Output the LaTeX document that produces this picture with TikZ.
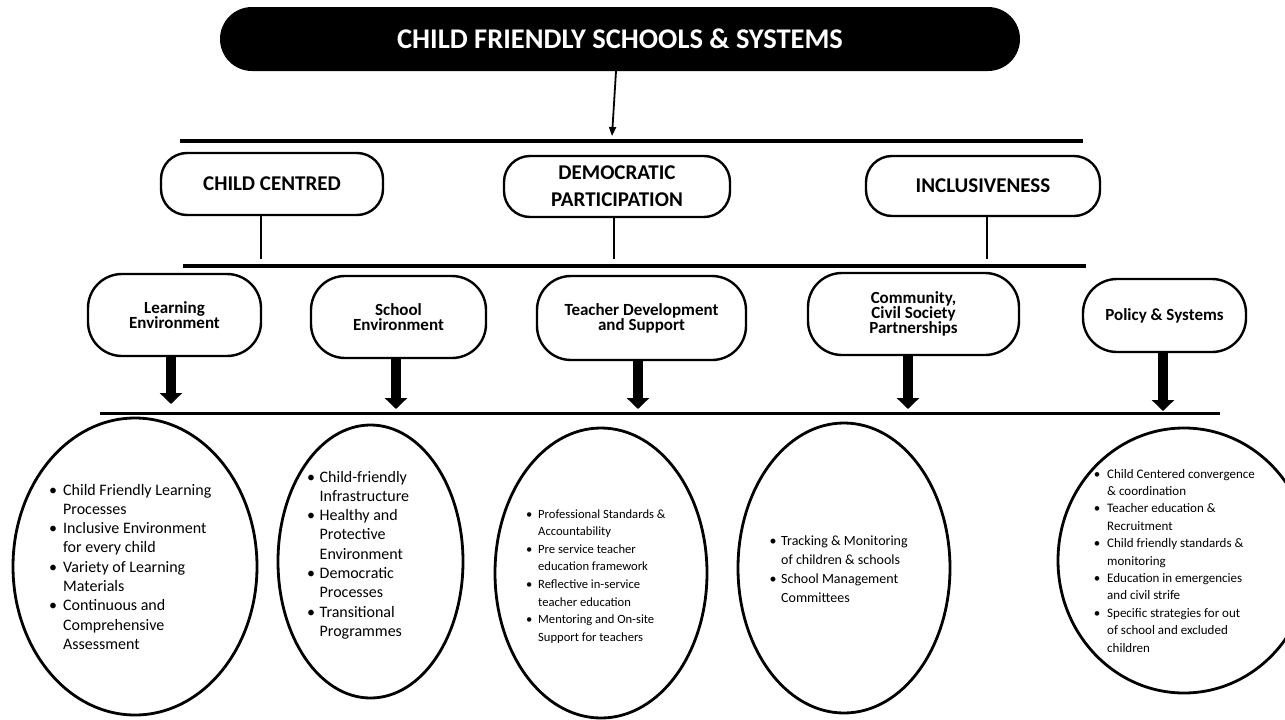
\documentclass[tikz,border=0pt]{standalone}
\usepackage{fontspec}
\setmainfont{Carlito}
\usetikzlibrary{arrows.meta,shapes.geometric}
\newlength\bd
\newcommand\bitem[1]{\makebox[\bd][l]{\makebox[0pt]{\textbullet}}#1}
\newcommand\bcont[1]{\hspace*{\bd}#1}
\newcommand\tightlines{\lineskiplimit=-40pt\relax}
\tikzset{
  rule/.style={line width=3.2pt},
  topbox/.style={fill=black, text=white, rounded corners=32pt, inner sep=0,
    minimum width=800pt, minimum height=64pt,
    font=\bfseries\fontsize{28.5}{32}\selectfont},
  lvlone/.style={draw, line width=2.4pt, rounded corners=26pt, inner sep=0, align=center,
    font=\bfseries\fontsize{21}{27}\selectfont},
  lvltwo/.style={draw, line width=2.4pt, rounded corners=34pt, inner sep=0, align=center,
    font=\bfseries\fontsize{17}{15}\selectfont\tightlines},
  oval/.style={draw, ellipse, line width=2.8pt, inner sep=0},
  link/.style={line width=2.2pt},
  thinarrow/.style={line width=1.8pt, -{Triangle[length=9pt,width=7pt]}},
  bigarrow/.style={line width=10pt, -{Triangle[length=11pt,width=22pt]}},
  bullets/.style={anchor=base west, inner sep=0},
}
\begin{document}
\begin{tikzpicture}[x=1pt,y=-1pt]
\useasboundingbox (0,0) rectangle (1285,720);
\clip (0,0) rectangle (1285,720);

% title
\node[topbox] (title) at (620,39) {CHILD FRIENDLY SCHOOLS \& SYSTEMS};

% rules
\coordinate (r1a) at (180,141);  \coordinate (r1b) at (1083,141);
\coordinate (r2a) at (183,266);  \coordinate (r2b) at (1086,266);
\coordinate (r3a) at (100,413.5); \coordinate (r3b) at (1220,413.5);
\draw[rule] (r1a) -- (r1b);
\draw[rule] (r2a) -- (r2b);
\draw[rule] (r3a) -- (r3b);

% top arrow
\coordinate (ta) at (612,136);
\draw[thinarrow] ([xshift=-4pt]title.south) -- (ta);

% level one
\node[lvlone, minimum width=222pt, minimum height=62pt] (cc) at (272,184) {CHILD CENTRED};
\node[lvlone, minimum width=226pt, minimum height=61pt] (dp) at (617,186.5) {DEMOCRATIC\\PARTICIPATION};
\node[lvlone, minimum width=234pt, minimum height=60pt] (inc) at (983,186) {INCLUSIVENESS};

\coordinate (v1) at (261,258.5);
\coordinate (v2) at (614,258.5);
\coordinate (v3) at (987,258.5);
\draw[link] (cc.south -| v1) -- (v1);
\draw[link] (dp.south -| v2) -- (v2);
\draw[link] (inc.south -| v3) -- (v3);

% level two
\node[lvltwo, minimum width=173pt, minimum height=82pt] (le) at (174.5,315) {Learning\\Environment};
\node[lvltwo, minimum width=175pt, minimum height=82pt] (se) at (398.5,317) {School\\Environment};
\node[lvltwo, minimum width=209pt, minimum height=84pt] (td) at (641.5,318) {Teacher Development\\and Support};
\node[lvltwo, minimum width=211pt, minimum height=82pt] (cs) at (913.5,314) {Community,\\Civil Society\\Partnerships};
\node[lvltwo, minimum width=163pt, minimum height=73pt] (ps) at (1164.5,315.5) {Policy \& Systems};

\coordinate (a1) at (171,404);
\coordinate (a2) at (396,409);
\coordinate (a3) at (638,409);
\coordinate (a4) at (908,409);
\coordinate (a5) at (1163,411);
\draw[bigarrow] (le.south -| a1) -- (a1);
\draw[bigarrow] (se.south -| a2) -- (a2);
\draw[bigarrow] (td.south -| a3) -- (a3);
\draw[bigarrow] (cs.south -| a4) -- (a4);
\draw[bigarrow] (ps.south -| a5) -- (a5);

% ovals
\node[oval, minimum width=244pt, minimum height=297pt] (e1) at (135,566.5) {};
\node[oval, minimum width=185pt, minimum height=273pt] (e2) at (370.5,561.5) {};
\node[oval, minimum width=212pt, minimum height=290pt] (e3) at (601,573) {};
\node[oval, minimum width=212pt, minimum height=290pt] (e4) at (844,568) {};
\node[oval, minimum width=252pt, minimum height=265pt] (e5) at (1184,560.5) {};

% bullet texts
\node[bullets] (t1) at (53,495) {\setlength\bd{10pt}\fontsize{16}{19.3}\selectfont
\begin{tabular}[t]{@{}l@{}}
\bitem{Child Friendly Learning}\\
\bcont{Processes}\\
\bitem{Inclusive Environment}\\
\bcont{for every child}\\
\bitem{Variety of Learning}\\
\bcont{Materials}\\
\bitem{Continuous and}\\
\bcont{Comprehensive}\\
\bcont{Assessment}
\end{tabular}};

\node[bullets] (t2) at (311,482) {\setlength\bd{8.5pt}\fontsize{16}{19.3}\selectfont
\begin{tabular}[t]{@{}l@{}}
\bitem{Child-friendly}\\
\bcont{Infrastructure}\\
\bitem{Healthy and}\\
\bcont{Protective}\\
\bcont{Environment}\\
\bitem{Democratic}\\
\bcont{Processes}\\
\bitem{Transitional}\\
\bcont{Programmes}
\end{tabular}};

\node[bullets] (t3) at (529,518) {\setlength\bd{9pt}\fontsize{12.6}{17.6}\selectfont
\begin{tabular}[t]{@{}l@{}}
\bitem{Professional Standards \&}\\
\bcont{Accountability}\\
\bitem{Pre service teacher}\\
\bcont{education framework}\\
\bitem{Reflective in-service}\\
\bcont{teacher education}\\
\bitem{Mentoring and On-site}\\
\bcont{Support for teachers}
\end{tabular}};

\node[bullets] (t4) at (773,545) {\setlength\bd{8pt}\fontsize{14}{19.3}\selectfont
\begin{tabular}[t]{@{}l@{}}
\bitem{Tracking \& Monitoring}\\
\bcont{of children \& schools}\\
\bitem{School Management}\\
\bcont{Committees}
\end{tabular}};

\node[bullets] (t5) at (1097,478) {\setlength\bd{10pt}\fontsize{13}{17.4}\selectfont
\begin{tabular}[t]{@{}l@{}}
\bitem{Child Centered convergence}\\
\bcont{\& coordination}\\
\bitem{Teacher education \&}\\
\bcont{Recruitment}\\
\bitem{Child friendly standards \&}\\
\bcont{monitoring}\\
\bitem{Education in emergencies}\\
\bcont{and civil strife}\\
\bitem{Specific strategies for out}\\
\bcont{of school and excluded}\\
\bcont{children}
\end{tabular}};
\end{tikzpicture}
\end{document}
